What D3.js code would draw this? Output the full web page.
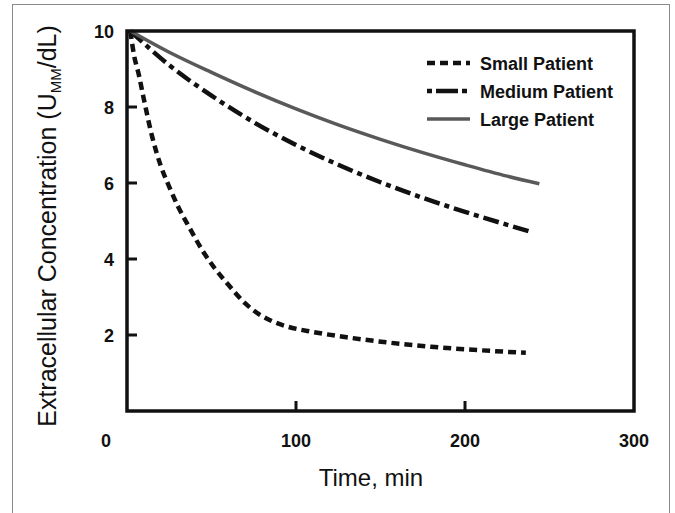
<!DOCTYPE html>
<html><head><meta charset="utf-8">
<script src="https://cdn.jsdelivr.net/npm/d3@7"></script>
<style>body{margin:0;background:#fff}svg{display:block}</style>
</head><body>
<svg id="c" width="675" height="513"></svg>
<script>
const seriesNames = ["Small Patient", "Medium Patient", "Large Patient"];
const smallT  = [2, 4, 7, 10, 15, 20, 25, 30, 37, 45, 52, 60, 70, 78, 85, 95, 110, 130, 155, 180, 205, 236];
const smallV  = [10, 9.4, 8.85, 8.2, 7.2, 6.45, 5.9, 5.4, 4.82, 4.2, 3.75, 3.32, 2.83, 2.55, 2.38, 2.22, 2.08, 1.94, 1.8, 1.69, 1.61, 1.53];
const mediumT = [2, 25, 50, 75, 100, 125, 150, 175, 200, 225, 238];
const mediumV = [10, 9.1, 8.3, 7.6, 7.0, 6.48, 6.02, 5.61, 5.24, 4.9, 4.73];
const largeT  = [2, 25, 50, 75, 100, 125, 150, 175, 200, 225, 244];
const largeV  = [10, 9.44, 8.91, 8.41, 7.95, 7.53, 7.15, 6.8, 6.48, 6.18, 5.98];
const xTicks = [0, 100, 200, 300];
const yTicks = [2, 4, 6, 8, 10];

const svg = d3.select("#c");
const x = d3.scaleLinear().domain([0, 300]).range([127, 634]);
const y = d3.scaleLinear().domain([0, 10]).range([411, 31]);

// outer border
svg.append("rect").attr("x", 12.5).attr("y", 4.5).attr("width", 657).attr("height", 520)
  .attr("fill", "none").attr("stroke", "#8a8a8a").attr("stroke-width", 1);

const styles = [
  {stroke: "#111", width: 4.5, dash: "8,5"},
  {stroke: "#111", width: 4.5, dash: "16,5,5,5"},
  {stroke: "#595959", width: 3.5, dash: null}
];
const data = [
  smallT.map((t, i) => [t, smallV[i]]),
  mediumT.map((t, i) => [t, mediumV[i]]),
  largeT.map((t, i) => [t, largeV[i]])
];
const line = d3.line().x(d => x(d[0])).y(d => y(d[1])).curve(d3.curveMonotoneX);

data.forEach((d, i) => {
  svg.append("path").datum(d).attr("d", line).attr("fill", "none")
    .attr("stroke", styles[i].stroke).attr("stroke-width", styles[i].width)
    .attr("stroke-dasharray", styles[i].dash);
});

// ticks inward
const g = svg.append("g");
yTicks.filter(v => v > 0 && v < 10).forEach(v => {
  g.append("line").attr("x1", x(0)).attr("x2", x(0) + 10).attr("y1", y(v)).attr("y2", y(v))
    .attr("stroke", "#111").attr("stroke-width", 3);
});
xTicks.filter(v => v > 0 && v < 300).forEach(v => {
  g.append("line").attr("x1", x(v)).attr("x2", x(v)).attr("y1", y(0)).attr("y2", y(0) - 10)
    .attr("stroke", "#111").attr("stroke-width", 3);
});
// frame
svg.append("rect").attr("x", x(0)).attr("y", y(10)).attr("width", x(300) - x(0)).attr("height", y(0) - y(10))
  .attr("fill", "none").attr("stroke", "#111").attr("stroke-width", 3.5);

// tick labels
const font = "'Liberation Sans', Arial, Helvetica, sans-serif";
yTicks.forEach(v => {
  svg.append("text").attr("x", 114).attr("y", y(v) + 6.5).attr("text-anchor", "end")
    .attr("font-family", font).attr("font-weight", "bold").attr("font-size", 18).attr("fill", "#111").text(v);
});
xTicks.forEach(v => {
  svg.append("text").attr("x", v === 0 ? x(v) - 21 : x(v)).attr("y", 447).attr("text-anchor", "middle")
    .attr("font-family", font).attr("font-weight", "bold").attr("font-size", 18).attr("fill", "#111").text(v);
});

// axis titles
svg.append("text").attr("x", 371).attr("y", 486).attr("text-anchor", "middle")
  .attr("font-family", font).attr("font-size", 24).attr("fill", "#111").text("Time, min");

const yt = svg.append("text").attr("transform", "translate(56,226) rotate(-90)").attr("text-anchor", "middle")
  .attr("font-family", font).attr("font-size", 25).attr("fill", "#111");
yt.append("tspan").text("Extracellular Concentration (U");
yt.append("tspan").attr("font-size", 15).attr("dy", 5).text("MM");
yt.append("tspan").attr("dy", -5).text("/dL)");

// legend
const legY = [63, 91, 119];
seriesNames.forEach((n, i) => {
  svg.append("line").attr("x1", 427).attr("x2", 470).attr("y1", legY[i]).attr("y2", legY[i])
    .attr("stroke", styles[i].stroke).attr("stroke-width", styles[i].width)
    .attr("stroke-dasharray", i === 1 ? "5,4,22,4,5" : styles[i].dash);
  svg.append("text").attr("x", 480).attr("y", legY[i] + 6.5)
    .attr("font-family", font).attr("font-weight", "bold").attr("font-size", 18).attr("fill", "#111").text(n);
});
</script>
</body></html>
